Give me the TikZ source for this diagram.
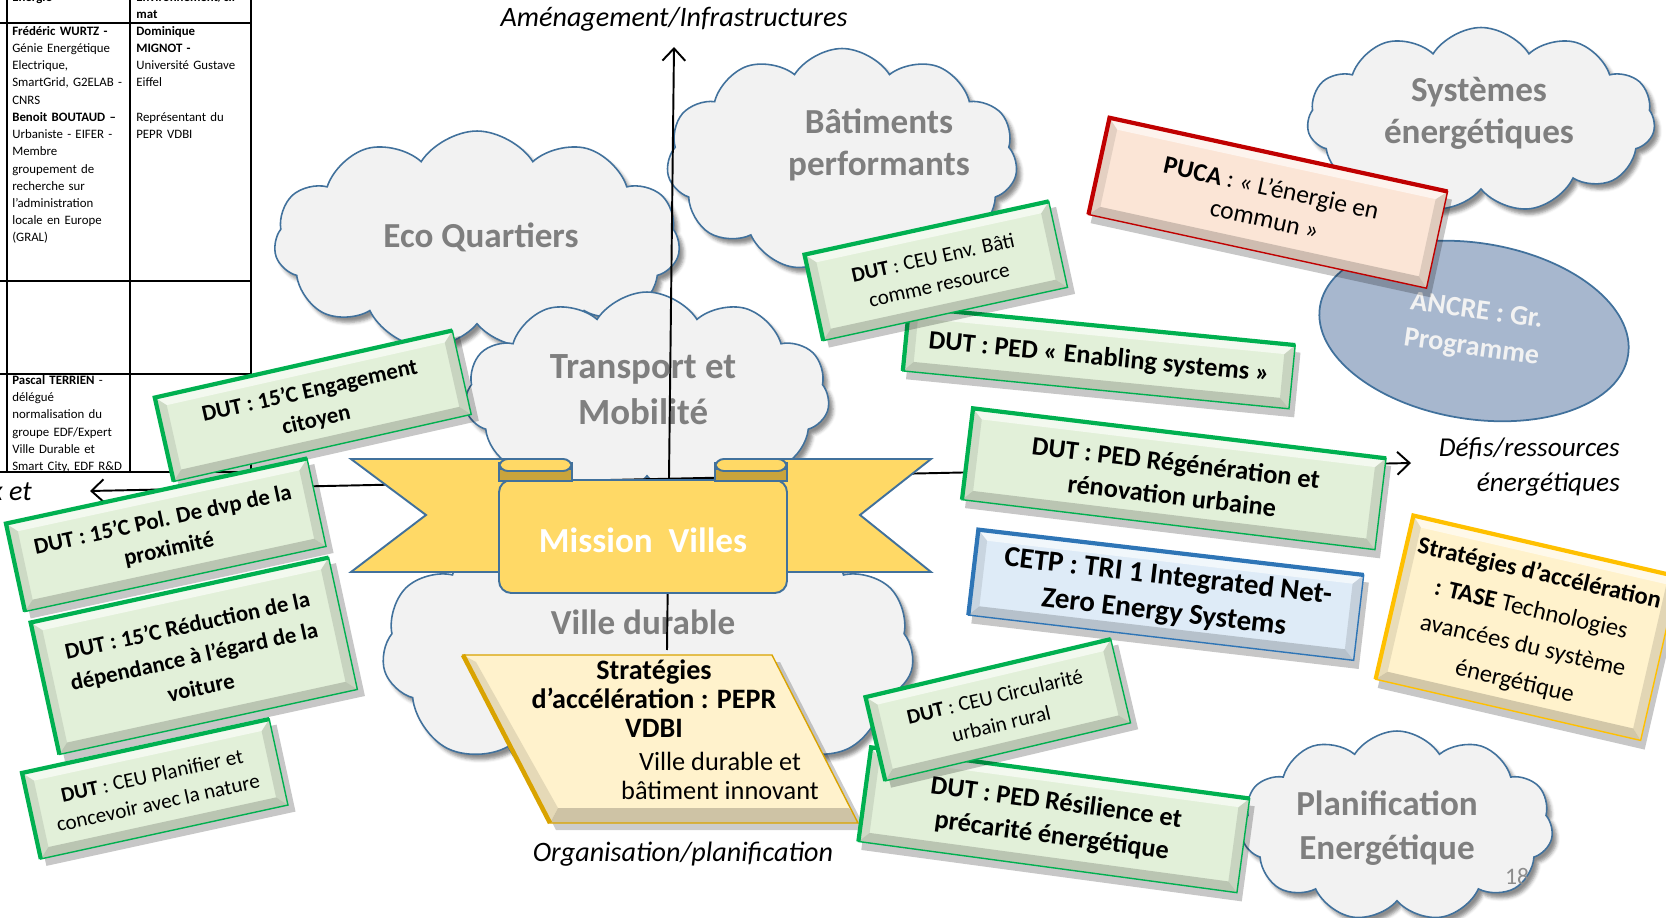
\documentclass[tikz,border=0pt]{standalone}
\usepackage{fontspec}
\setmainfont{Carlito}
\usetikzlibrary{shapes.symbols,shapes.geometric,shadows.blur,arrows.meta}
\definecolor{cloudfill}{HTML}{F2F2F2}
\definecolor{cloudedge}{HTML}{41719C}
\definecolor{cloudtext}{HTML}{7F7F7F}
\definecolor{ribfill}{HTML}{FFD966}
\definecolor{ribdark}{HTML}{C9A43C}
\definecolor{ribedge}{HTML}{41719C}
\definecolor{gface}{HTML}{E2F0D9}
\definecolor{gedge}{HTML}{00B050}
\definecolor{bface}{HTML}{DEEBF7}
\definecolor{bedge}{HTML}{2E75B6}
\definecolor{rface}{HTML}{FBE5D6}
\definecolor{redge}{HTML}{C00000}
\definecolor{yface}{HTML}{FFF2CC}
\definecolor{yedge}{HTML}{FFC000}
\definecolor{ancrefill}{HTML}{A7B7CE}
\newcommand\fsz[2]{\fontsize{#1}{#2}\selectfont}
% bevel box: name, cx, cy, angle, w, h, colour prefix, node options, text
\newcommand\bbox[9]{%
\begin{scope}[shift={(#2,#3)},rotate=#4]
\fill[black,opacity=.22] (-#5/2+4,-#6/2+7) rectangle (#5/2+6,#6/2+8);
\fill[#7face] (-#5/2,-#6/2) rectangle (#5/2,#6/2);
\fill[#7face!65!black,opacity=.5] (-#5/2,#6/2) -- (#5/2,#6/2) -- (#5/2-10,#6/2-10) -- (-#5/2+10,#6/2-10) -- cycle;
\fill[#7face!75!black,opacity=.45] (#5/2,-#6/2) -- (#5/2,#6/2) -- (#5/2-10,#6/2-10) -- (#5/2-10,-#6/2+10) -- cycle;
\fill[white,opacity=.6] (-#5/2,-#6/2) -- (#5/2,-#6/2) -- (#5/2-10,-#6/2+10) -- (-#5/2+10,-#6/2+10) -- cycle;
\fill[#7face!80!black,opacity=.45] (-#5/2,-#6/2) -- (-#5/2+10,-#6/2+10) -- (-#5/2+10,#6/2-10) -- (-#5/2,#6/2) -- cycle;
\draw[#7edge,line width=0.8pt] (-#5/2,-#6/2) rectangle (#5/2,#6/2);
\draw[#7edge,line width=2.4pt] (-#5/2,#6/2) -- (-#5/2,-#6/2) -- (#5/2,-#6/2);
\node[rotate=#4,align=center,inner sep=0pt,#8] (#1) at (0,0) {#9};
\end{scope}}
\tikzset{
  tbl/.style={line width=1pt,black},
  tcell/.style={anchor=north west,inner sep=0pt,text width=2.3cm,align=left,font=\fsz{7.3}{9.8}},
  cloudsty/.style={cloud,cloud puffs=11,cloud puff arc=115,cloud ignores aspect,draw=cloudedge,line width=0.9pt,fill=cloudfill,inner sep=0pt,
     blur shadow={shadow xshift=2.5pt,shadow yshift=-3pt,shadow opacity=45}},
  cloudlbl/.style={text=cloudtext,font=\bfseries\fsz{20}{24},align=center},
  axisline/.style={line width=1.1pt,black},
  axislbl/.style={font=\itshape\fsz{16}{19.5}},
  rib/.style={draw=ribedge,line width=1.1pt}
}
\begin{document}
\begin{tikzpicture}[x=0.02cm,y=-0.02cm]
\useasboundingbox (0,0) rectangle (1666,918);
\clip (0,0) rectangle (1666,918);
% ---------- table ----------
\foreach \yy in {23,281,374,472} \draw[tbl] (0,\yy) -- (251,\yy);
\foreach \xx in {7,130,251} \draw[tbl] (\xx,0) -- (\xx,472);
\node[tcell] (h1) at (12,-8) {\textbf{Energie}};
\node[tcell] (h2) at (136,-8) {\textbf{Environnement/cli}\\\textbf{mat}};
\node[tcell] (c1) at (12,26) {\textbf{Frédéric WURTZ -}\\Génie Energétique\\Electrique,\\SmartGrid, G2ELAB -\\CNRS\\\textbf{Benoit BOUTAUD –}\\Urbaniste - EIFER -\\Membre\\groupement de\\recherche sur\\l'administration\\locale en Europe\\(GRAL)};
\node[tcell] (c2) at (136,26) {\textbf{Dominique}\\\textbf{MIGNOT -}\\Université Gustave\\Eiffel\\\mbox{}\\Représentant du\\PEPR VDBI};
\node[tcell] (c3) at (12,375) {\textbf{Pascal TERRIEN} -\\délégué\\normalisation du\\groupe EDF/Expert\\Ville Durable et\\Smart City, EDF R\&D};
% ---------- clouds ----------
\node[cloudsty,minimum width=10.64cm,minimum height=6.0cm] (cVD) at (648,650) {};
\node[cloudlbl] (tVD) at (643,622) {Ville durable};
\node[cloudsty,minimum width=8.12cm,minimum height=4.4cm] (cEco) at (477,241) {};
\node[cloudlbl] (tEco) at (481,237) {Eco Quartiers};
\node[cloudsty,minimum width=7.02cm,minimum height=4.46cm] (cBat) at (842,160) {};
\node[cloudlbl,font=\bfseries\fsz{20}{24}] (tBat) at (879,145) {Bâtiments\\performants};
\node[cloudsty,minimum width=7.3cm,minimum height=4.16cm] (cTr) at (647,396) {};
\node[cloudlbl,font=\bfseries\fsz{21}{26}] (tTr) at (643,390) {Transport et\\Mobilité};
\node[cloudsty,minimum width=6.96cm,minimum height=3.7cm] (cSys) at (1481,120) {};
\node[cloudlbl] (tSys) at (1479,113) {Systèmes\\énergétiques};
\node[cloudsty,minimum width=6.24cm,minimum height=3.8cm] (cPlan) at (1397,826) {};
\node[cloudlbl,font=\bfseries\fsz{20}{25}] (tPlan) at (1387,828) {Planification\\Energétique};
% ---------- axes ----------
\coordinate (vbot) at (667,650);
\coordinate (vtop) at (674,47);
\coordinate (hl) at (90,491);
\coordinate (hr) at (1411,463);
\draw[axisline,-{Straight Barb[length=7pt,width=13pt]}] (vbot) -- (vtop);
\draw[axisline,{Straight Barb[length=7pt,width=13pt]}-{Straight Barb[length=7pt,width=13pt]}] (hl) -- (hr);
% ---------- ANCRE ----------
\node[ellipse,draw=cloudedge,line width=1pt,fill=ancrefill,minimum width=6.24cm,minimum height=3.52cm,rotate=-9] (ancre) at (1474,331) {};
\node[rotate=-8,text=cloudfill,font=\bfseries\fsz{16}{21},align=center] (tAncre) at (1474,330) {ANCRE : Gr.\\Programme};
\bbox{puca}{1268}{203}{-12.3}{346}{99}{r}{font=\fsz{14.5}{18}}{\textbf{PUCA} : « L’énergie en\\commun »}
% ---------- ribbon ----------
\filldraw[rib,fill=ribfill] (560,459) -- (351,459) -- (426,515) -- (351,572) -- (560,572) -- cycle;
\filldraw[rib,fill=ribfill] (726,459) -- (931,459) -- (860,515) -- (931,572) -- (726,572) -- cycle;
\filldraw[rib,fill=ribfill,rounded corners=7] (499,480) -- (499,593) -- (787,593) -- (787,480) -- cycle;
\filldraw[rib,fill=ribdark] (499,469) rectangle (572,481);
\filldraw[rib,fill=ribfill,rounded corners=5] (499,459) rectangle (572,471);
\filldraw[rib,fill=ribdark] (715,469) rectangle (787,481);
\filldraw[rib,fill=ribfill,rounded corners=5] (715,459) rectangle (787,471);
\node[text=white,font=\bfseries\fsz{20}{24}] (mission) at (643,540) {Mission\ \ Villes};
% ---------- PEPR box ----------
\fill[black,opacity=.2] (469,662) -- (780,662) -- (866,830) -- (556,830) -- cycle;
\fill[yface] (463,655) -- (772,655) -- (858,823) -- (550,823) -- cycle;
\fill[yface!65!black,opacity=.55] (550,823) -- (858,823) -- (849,808) -- (558,808) -- cycle;
\fill[yface!80!black,opacity=.5] (463,655) -- (550,823) -- (558,808) -- (476,662) -- cycle;
\draw[yedge!85!black,line width=0.8pt] (463,655) -- (772,655) -- (858,823) -- (550,823) -- cycle;
\draw[yedge!85!black,line width=2.6pt] (550,823) -- (463,655);
\node[font=\bfseries\fsz{16}{16.5},align=center] (pepr) at (654,699) {Stratégies\\d'accélération : PEPR\\VDBI};
\node[font=\fsz{15}{16.5},align=center] (peprb) at (720,776) {Ville durable et\\bâtiment innovant};
% ---------- bevel boxes ----------
\bbox{engage}{313}{406}{12.7}{305}{86}{g}{font=\bfseries\fsz{13}{17}}{DUT : 15’C Engagement\\citoyen}
\bbox{poldvp}{166}{535}{12.2}{308}{90}{g}{font=\bfseries\fsz{13}{17}}{DUT : 15’C Pol. De dvp de la\\proximité}
\bbox{reduc}{194}{656}{12.3}{305}{135}{g}{font=\bfseries\fsz{13}{18}}{DUT : 15’C Réduction de la\\dépendance à l’égard de la\\voiture}
\bbox{planif}{155}{789}{12.3}{253}{88}{g}{font=\fsz{12}{16}}{\textbf{DUT} : CEU Planifier et\\concevoir avec la nature}
\bbox{enabling}{1099}{358}{-5.6}{388}{64}{g}{font=\bfseries\fsz{15}{18}}{DUT : PED « Enabling systems »}
\bbox{ceuenv}{936}{271}{12.3}{250}{88}{g}{font=\fsz{12}{16}}{\textbf{DUT} : CEU Env. Bâti\\comme resource}
\bbox{regen}{1174}{479}{-6.9}{416}{92}{g}{font=\bfseries\fsz{15}{19}}{DUT : PED Régénération et\\rénovation urbaine}
\bbox{cetp}{1166}{595}{-6.7}{388}{86}{b}{font=\bfseries\fsz{16.5}{20.5}}{CETP : TRI 1 Integrated Net-\\Zero Energy Systems}
\bbox{resil}{1054}{820}{-7.7}{382}{95}{g}{font=\bfseries\fsz{15}{19}}{DUT : PED Résilience et\\précarité énergétique}
\bbox{circ}{998}{710}{13.3}{252}{86}{g}{font=\fsz{12}{16}}{\textbf{DUT} : CEU Circularité\\urbain rural}
\bbox{tase}{1527}{628}{-13}{272}{168}{y}{font=\fsz{14}{21}}{\textbf{Stratégies d’accélération}\\\textbf{: TASE} Technologies\\avancées du système\\énergétique}
% ---------- labels ----------
\node[axislbl] (lblN) at (674,19) {Aménagement/Infrastructures};
\node[axislbl] (lblS) at (683,854) {Organisation/planification};
\node[axislbl,font=\itshape\fsz{15.5}{19.5},align=right,anchor=east] (lblE) at (1626,467) {Défis/ressources\\énergétiques};
\node[axislbl,anchor=east] (lblW) at (38,492) {x et};
\node[text=black!45,font=\fsz{13.5}{16}] (pnum) at (1517,876) {18};
\end{tikzpicture}
\end{document}
